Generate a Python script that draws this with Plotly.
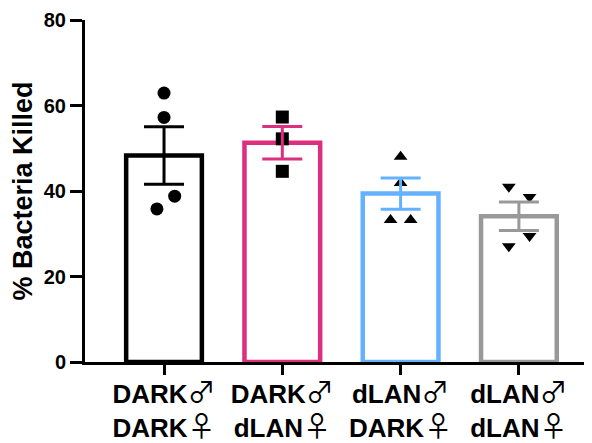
import plotly.graph_objects as go

# ---- data ----
groups = ["DARK♂ DARK♀", "DARK♂ dLAN♀", "dLAN♂ DARK♀", "dLAN♂ dLAN♀"]
male_labels = ["DARK", "DARK", "dLAN", "dLAN"]
female_labels = ["DARK", "dLAN", "DARK", "dLAN"]
means = [48.3, 51.3, 39.4, 34.1]
sems = [6.7, 3.8, 3.65, 3.35]
points_dark_dark = [62.9, 57.2, 38.8, 35.8]
points_dark_dlan = [57.3, 52.2, 44.6]
points_dlan_dark = [48.0, 41.9, 33.2, 33.2]
points_dlan_dlan = [41.0, 38.6, 29.5, 27.1]
y_ticks = [0, 20, 40, 60, 80]

# ---- styles ----
colors = ["#000000", "#DC2F7E", "#64B2FF", "#999999"]
symbols = ["circle", "square", "triangle-up", "triangle-down"]
msizes = [13, 13, 12, 12]
jitter = [[0, 0, 0.09, -0.06],
          [0, 0, 0],
          [0, 0, -0.085, 0.085],
          [-0.085, 0.09, 0.09, -0.085]]
all_points = [points_dark_dark, points_dark_dlan, points_dlan_dark, points_dlan_dlan]
xpos = list(range(len(groups)))

sym_style = ("font-family:'DejaVu Sans ExtraLight','Noto Sans CJK JP','DejaVu Sans';"
             "font-weight:normal;font-size:28px")
tick_labels = [
    f"<b>{m}</b><span style=\"{sym_style}\">♂</span><br><b>{f}</b><span style=\"{sym_style}\">♀</span>"
    for m, f in zip(male_labels, female_labels)]

fig = go.Figure()

fig.add_trace(go.Bar(
    x=xpos, y=means, width=0.64,
    marker=dict(color="white", line=dict(color=colors, width=4.5)),
    showlegend=False, hoverinfo="skip"))

for i, pts in enumerate(all_points):
    fig.add_trace(go.Scatter(
        x=[xpos[i] + j for j in jitter[i]], y=pts, mode="markers",
        marker=dict(symbol=symbols[i], size=msizes[i], color="black", line=dict(width=0)),
        showlegend=False, hoverinfo="skip"))

for i in range(len(groups)):
    fig.add_trace(go.Scatter(
        x=[xpos[i]], y=[means[i]], mode="markers",
        marker=dict(size=1, color="rgba(0,0,0,0)"),
        error_y=dict(type="data", array=[sems[i]], color=colors[i], thickness=3, width=20),
        showlegend=False, hoverinfo="skip"))

# page body adds an 8px margin, so the figure is sized to fit the window
fig.update_layout(
    width=584, height=435,
    margin=dict(l=77, r=0, t=12, b=81),
    plot_bgcolor="white", paper_bgcolor="white",
    font=dict(family="Liberation Sans", color="black"),
)
fig.update_xaxes(
    range=[-0.668, 3.618], tickvals=xpos, ticktext=tick_labels,
    showline=True, linecolor="black", linewidth=3,
    ticks="outside", ticklen=10, tickwidth=3, tickcolor="black",
    tickfont=dict(size=26, family="Liberation Sans", color="black"),
    ticklabelstandoff=-3,
    showgrid=False, zeroline=False, automargin=False)
fig.update_yaxes(
    range=[0, 80], tickvals=y_ticks,
    showline=True, linecolor="black", linewidth=3,
    ticks="outside", ticklen=12, tickwidth=3, tickcolor="black",
    tickfont=dict(size=20, family="Liberation Sans", color="black", weight="bold"),
    title=dict(text="% Bacteria Killed", standoff=15,
               font=dict(size=27, family="Liberation Sans", color="black", weight="bold")),
    showgrid=False, zeroline=False, automargin=False)

fig.write_html("out.html")
